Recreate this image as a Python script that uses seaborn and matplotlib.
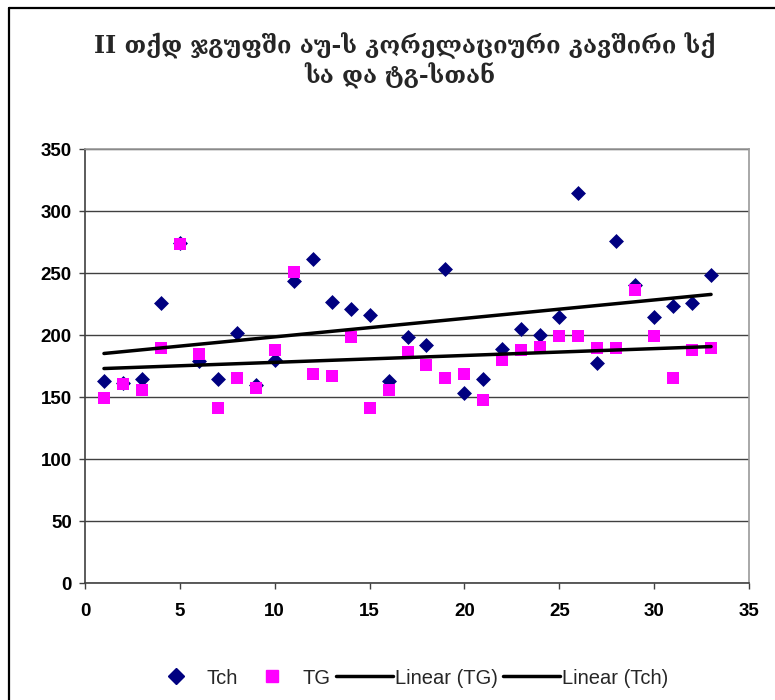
import numpy as np
import pandas as pd
import matplotlib
matplotlib.use("Agg")
import matplotlib.pyplot as plt
import seaborn as sns
from matplotlib.lines import Line2D

# Patient index and measured values
patients = list(range(1, 34))
tch = [163, 161, 164.5, 225.5, 274.5, 179, 164.5, 201.5, 159.5, 180,
       243.5, 261.5, 227, 221, 216, 163, 198, 192, 253, 153,
       164.5, 189, 205, 200, 214.5, 314.5, 177.5, 275.5, 240.5, 214.5,
       223.5, 225.5, 248.5]
tg = [149, 160.5, 155.5, 189.5, 273, 184.5, 141, 165, 157, 188,
      250.5, 168.5, 167, 198.5, 141, 155.5, 186.5, 176, 165, 168.5,
      147.5, 179.5, 188, 190, 199, 199, 189.5, 189.5, 236.5, 199,
      165, 188, 189.5]

x_ticks = [0, 5, 10, 15, 20, 25, 30, 35]
y_ticks = [0, 50, 100, 150, 200, 250, 300, 350]

title_line1 = "II თქდ ჯგუფში აუ-ს კორელაციური კავშირი სქ"
title_line2 = "სა და ტგ-სთან"

sns.set_style("white")
plt.rcParams['font.family'] = ['Liberation Sans', 'DejaVu Sans']

df = pd.DataFrame({"n": patients, "Tch": tch, "TG": tg})

W, H = 775, 700
fig = plt.figure(figsize=(W / 100, H / 100), dpi=100)
ax = fig.add_axes([85 / W, 1 - 583 / H, (749 - 85) / W, (583 - 149) / H])

sns.scatterplot(data=df, x="n", y="Tch", marker="D", s=58, color="#000080",
                linewidth=0, ax=ax, label="Tch", zorder=3, legend=False)
sns.scatterplot(data=df, x="n", y="TG", marker="s", s=70, color="#FF00FF",
                linewidth=0, ax=ax, label="TG", zorder=4, legend=False)
sns.regplot(data=df, x="n", y="TG", scatter=False, ci=None, color="black",
            line_kws=dict(lw=2.5, zorder=5), ax=ax)
sns.regplot(data=df, x="n", y="Tch", scatter=False, ci=None, color="black",
            line_kws=dict(lw=2.5, zorder=5), ax=ax)

ax.set_xlim(0, 35)
ax.set_ylim(0, 350)
ax.set_xticks(x_ticks)
ax.set_yticks(y_ticks)
ax.set_xticklabels([str(v) for v in x_ticks], fontweight="bold")
ax.set_yticklabels([str(v) for v in y_ticks], fontweight="bold")
ax.set_xlabel("")
ax.set_ylabel("")

ax.grid(axis="y", color="#404040", lw=1.0)
ax.grid(axis="x", visible=False)
ax.set_axisbelow(True)

for side in ("left", "bottom"):
    ax.spines[side].set_color("#404040")
    ax.spines[side].set_linewidth(1.2)
for side in ("top", "right"):
    ax.spines[side].set_color("#9a9a9a")
    ax.spines[side].set_linewidth(1.2)

ax.tick_params(axis="both", direction="out", length=4.5, width=1,
               color="#404040", labelsize=13.5, labelcolor="black")
ax.tick_params(axis="x", pad=10)
ax.tick_params(axis="y", pad=5)
ax.tick_params(left=True, bottom=True)

# Legend
handles = [
    Line2D([], [], marker="D", color="#000080", linestyle="none", markersize=8),
    Line2D([], [], marker="s", color="#FF00FF", linestyle="none", markersize=8.5),
    Line2D([], [], color="black", lw=2.5),
    Line2D([], [], color="black", lw=2.5),
]
labels = ["Tch", "TG", "Linear (TG)", "Linear (Tch)"]
fig.legend(handles, labels, loc="center", bbox_to_anchor=(408 / W, 1 - 678 / H),
           ncol=4, frameon=False, fontsize=14.5, handlelength=2.8,
           handletextpad=0.1, columnspacing=0.3)

# Title
title_family = ['DejaVu Serif', 'DejaVu Sans']
fig.text(405 / W, 1 - 46 / H, title_line1, ha="center", va="center",
         fontsize=17, fontweight="bold", family=title_family)
fig.text(400 / W, 1 - 76 / H, title_line2, ha="center", va="center",
         fontsize=17, fontweight="bold", family=title_family)

# Chart area border
fig.add_artist(Line2D([9 / W, 9 / W], [0, 1 - 8 / H], transform=fig.transFigure,
                      color="black", lw=1.6))
fig.add_artist(Line2D([9 / W, 1], [1 - 8 / H, 1 - 8 / H], transform=fig.transFigure,
                      color="black", lw=1.6))

fig.savefig("out.png", dpi=100)
